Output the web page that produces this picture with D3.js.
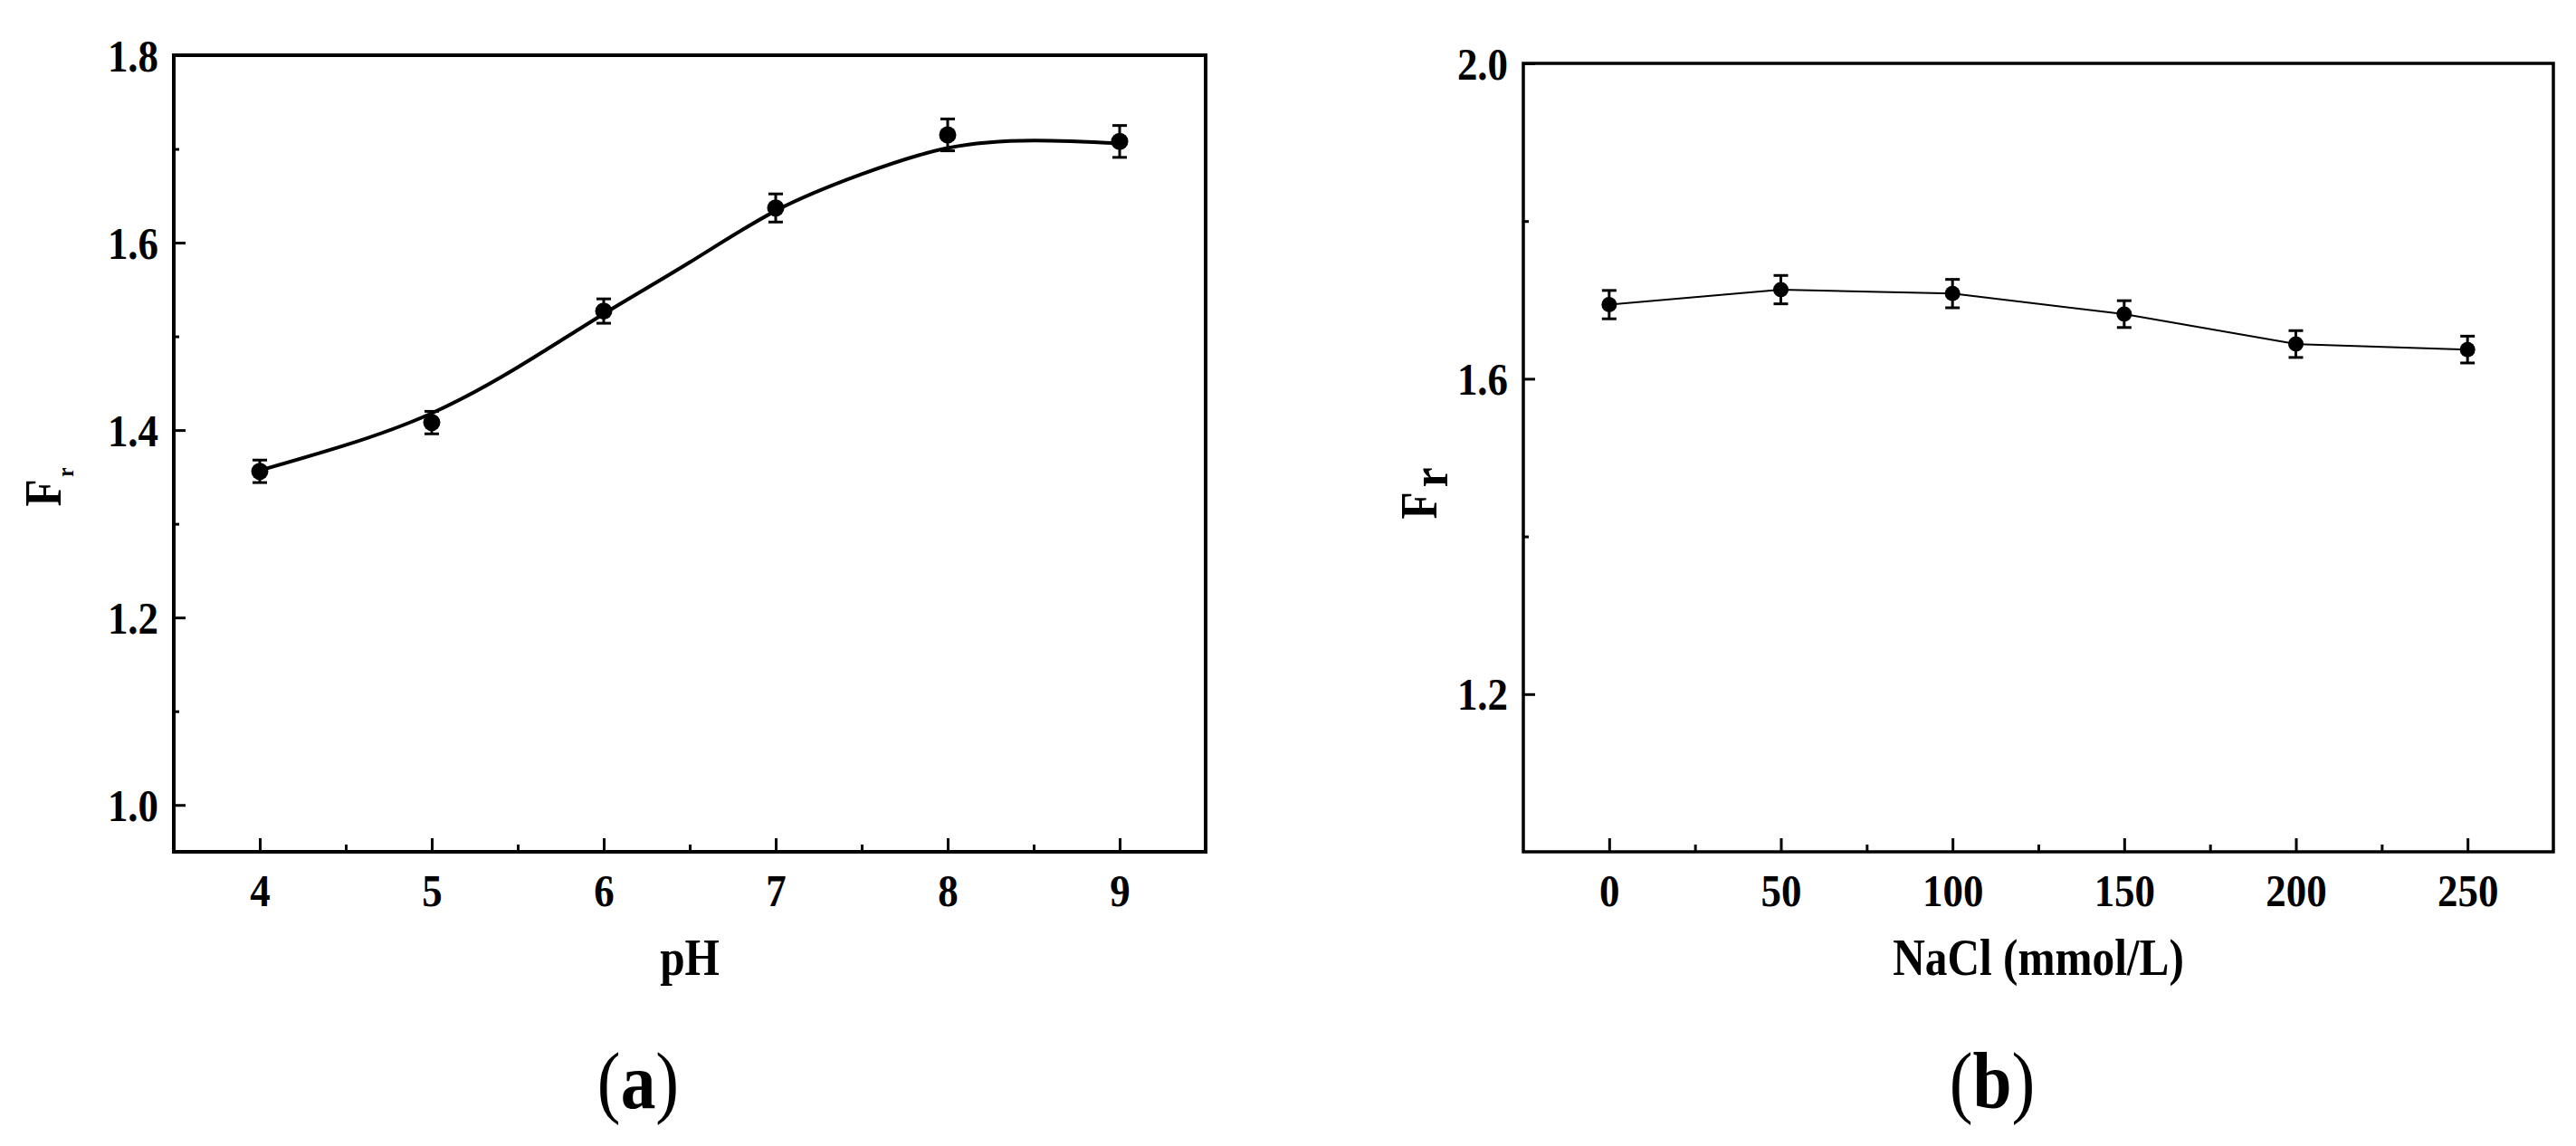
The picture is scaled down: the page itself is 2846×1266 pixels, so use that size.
<!DOCTYPE html>
<html>
<head>
<meta charset="utf-8">
<script src="https://cdn.jsdelivr.net/npm/d3@7"></script>
<style>
  body { margin: 0; background: #fff; }
  text { font-family: "Liberation Serif", "Times New Roman", serif; font-weight: bold; fill: #000; }
</style>
</head>
<body>
<div id="chart"></div>
<script>
// panel (a): effect of pH
const phValues = [4, 5, 6, 7, 8, 9];
const phFr = [1.356, 1.408, 1.527, 1.637, 1.715, 1.708];
const phErr = [0.012, 0.012, 0.013, 0.015, 0.017, 0.017];
// fitted curve, every 0.5 pH
const phFitX = [4, 4.5, 5, 5.5, 6, 6.5, 7, 7.5, 8, 8.5, 9];
const phFitY = [1.357, 1.384, 1.418, 1.467, 1.524, 1.579, 1.634, 1.673, 1.701, 1.709, 1.706];
const phTicks = [4, 5, 6, 7, 8, 9];
const phMinor = [4.5, 5.5, 6.5, 7.5, 8.5];
const phYTicks = [1.0, 1.2, 1.4, 1.6, 1.8];
const phYMinor = [1.1, 1.3, 1.5, 1.7];

// panel (b): effect of NaCl
const naclValues = [0, 50, 100, 150, 200, 250];
const naclFr = [1.694, 1.713, 1.708, 1.682, 1.644, 1.637];
const naclErr = [0.018, 0.018, 0.018, 0.017, 0.017, 0.017];
const naclTicks = [0, 50, 100, 150, 200, 250];
const naclMinor = [25, 75, 125, 175, 225];
const naclYTicks = [1.2, 1.6, 2.0];
const naclYMinor = [1.4, 1.8];

const W = 2846, H = 1266;
const SX = 0.88; // the original lettering is a bit condensed

const svg = d3.select("#chart").append("svg")
    .attr("width", W)
    .attr("height", H);

svg.append("rect").attr("width", W).attr("height", H).attr("fill", "#fff");

function addText(g, x, y, rotate, size) {
    return g.append("text")
        .attr("transform", `translate(${x},${y})` + (rotate ? " rotate(-90)" : "") + ` scale(${SX},1)`)
        .attr("text-anchor", "middle")
        .style("font-size", size + "px");
}

function drawPanel(cfg) {
    const g = svg.append("g");
    const x = d3.scaleLinear().domain(cfg.xDomain).range([cfg.left, cfg.right]);
    const y = d3.scaleLinear().domain(cfg.yDomain).range([cfg.bottom, cfg.top]);

    // x axis, ticks pointing in
    const xa = g.append("g")
        .attr("transform", `translate(0,${cfg.bottom})`)
        .call(d3.axisBottom(x).tickValues(cfg.xTicks).tickSize(-15).tickFormat(d3.format("d")));
    g.append("g")
        .attr("transform", `translate(0,${cfg.bottom})`)
        .call(d3.axisBottom(x).tickValues(cfg.xMinor).tickSize(-8).tickFormat(""));

    const ya = g.append("g")
        .attr("transform", `translate(${cfg.left},0)`)
        .call(d3.axisLeft(y).tickValues(cfg.yTicks).tickSize(-13).tickFormat(d3.format(".1f")));
    g.append("g")
        .attr("transform", `translate(${cfg.left},0)`)
        .call(d3.axisLeft(y).tickValues(cfg.yMinor).tickSize(-6).tickFormat(""));

    g.selectAll(".domain").remove();
    g.selectAll(".tick line").attr("stroke", "#000").attr("stroke-width", 3);

    xa.selectAll(".tick text")
        .attr("y", 60).attr("dy", null)
        .attr("transform", `scale(${SX},1)`)
        .style("font-size", "51px");
    ya.selectAll(".tick text")
        .attr("x", -17 / SX).attr("y", 17).attr("dy", null)
        .attr("transform", `scale(${SX},1)`)
        .style("font-size", "51px");

    // frame
    g.append("rect")
        .attr("x", cfg.left).attr("y", cfg.top)
        .attr("width", cfg.right - cfg.left)
        .attr("height", cfg.bottom - cfg.top)
        .attr("fill", "none")
        .attr("stroke", "#000")
        .attr("stroke-width", cfg.frameWidth);

    // line
    const line = d3.line()
        .x(d => x(d[0]))
        .y(d => y(d[1]))
        .curve(cfg.curve);
    g.append("path")
        .datum(d3.zip(cfg.lineX, cfg.lineY))
        .attr("d", line)
        .attr("fill", "none")
        .attr("stroke", "#000")
        .attr("stroke-width", cfg.lineWidth);

    // error bars
    const pts = cfg.xs.map((v, i) => ({x: v, y: cfg.ys[i], e: cfg.errs[i]}));
    const eb = g.append("g").attr("stroke", "#000").attr("stroke-width", 3);
    eb.selectAll(".stem").data(pts).join("line")
        .attr("x1", d => x(d.x)).attr("x2", d => x(d.x))
        .attr("y1", d => y(d.y - d.e)).attr("y2", d => y(d.y + d.e));
    eb.selectAll(".capTop").data(pts).join("line")
        .attr("x1", d => x(d.x) - 8).attr("x2", d => x(d.x) + 8)
        .attr("y1", d => y(d.y + d.e)).attr("y2", d => y(d.y + d.e));
    eb.selectAll(".capBot").data(pts).join("line")
        .attr("x1", d => x(d.x) - 8).attr("x2", d => x(d.x) + 8)
        .attr("y1", d => y(d.y - d.e)).attr("y2", d => y(d.y - d.e));

    g.selectAll("circle").data(pts).join("circle")
        .attr("cx", d => x(d.x))
        .attr("cy", d => y(d.y))
        .attr("r", cfg.markerR)
        .attr("fill", "#000");

    // axis titles
    addText(g, (cfg.left + cfg.right) / 2, 1077, false, 56).text(cfg.xTitle);

    const yt = addText(g, cfg.yTitleX, cfg.yTitleY, true, 56);
    yt.append("tspan").text("F");
    yt.append("tspan").text("r")
        .attr("dx", cfg.subDx)
        .attr("dy", cfg.subDy)
        .style("font-size", cfg.subSize + "px");

    // panel letter
    const pl = addText(g, cfg.letterX, 1224, false, 88);
    pl.append("tspan").text("(").style("font-weight", "normal");
    pl.append("tspan").text(cfg.letter);
    pl.append("tspan").text(")").style("font-weight", "normal");
}

drawPanel({
    left: 192, right: 1332, top: 61, bottom: 941,
    xDomain: [3.5, 9.5], yDomain: [0.95, 1.8],
    xTicks: phTicks, xMinor: phMinor, yTicks: phYTicks, yMinor: phYMinor,
    xs: phValues, ys: phFr, errs: phErr,
    lineX: phFitX, lineY: phFitY, curve: d3.curveNatural, lineWidth: 4,
    frameWidth: 4, markerR: 9.5,
    xTitle: "pH",
    yTitleX: 67, yTitleY: 538, subSize: 26, subDx: 3, subDy: 14,
    letter: "a", letterX: 705
});

drawPanel({
    left: 1683, right: 2821, top: 70, bottom: 941,
    xDomain: [-25, 275], yDomain: [1.0, 2.0],
    xTicks: naclTicks, xMinor: naclMinor, yTicks: naclYTicks, yMinor: naclYMinor,
    xs: naclValues, ys: naclFr, errs: naclErr,
    lineX: naclValues, lineY: naclFr, curve: d3.curveLinear, lineWidth: 2,
    frameWidth: 3.5, markerR: 8.5,
    xTitle: "NaCl (mmol/L)",
    yTitleX: 1587, yTitleY: 545, subSize: 56, subDx: 6, subDy: 12,
    letter: "b", letterX: 2201
});
</script>
</body>
</html>
